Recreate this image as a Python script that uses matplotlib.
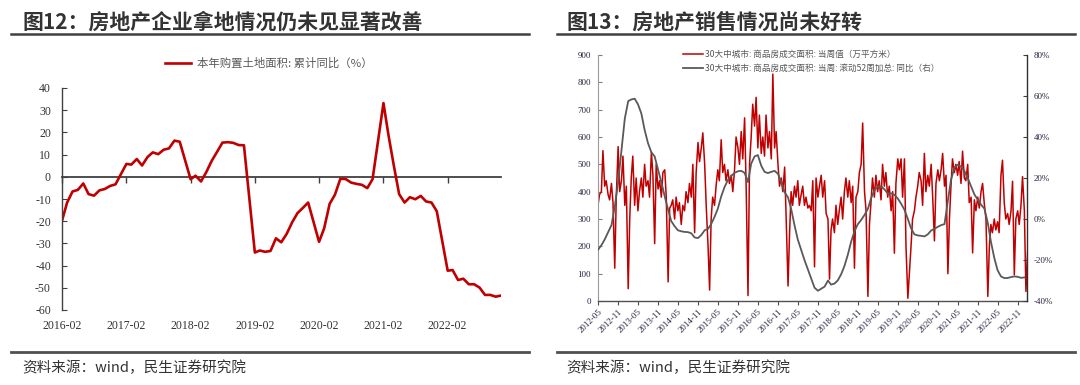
import numpy as np
import pandas as pd
import matplotlib
matplotlib.use('Agg')
import matplotlib.pyplot as plt
import matplotlib.dates as mdates
from matplotlib.lines import Line2D

plt.rcParams['font.family'] = ['Noto Sans CJK SC', 'DejaVu Sans']
SERIF = ['Liberation Serif', 'DejaVu Serif']

# ---------------- data: left chart (monthly, Jan omitted) ----------------
land_years = [2016, 2017, 2018, 2019, 2020, 2021, 2022]
land_2016 = [-19.8, -11.6, -6.6, -5.9, -3.0, -7.8, -8.5, -6.1, -5.5, -4.1, -3.4]
land_2017 = [5.8, 5.5, 8.0, 5.1, 8.9, 11.0, 10.2, 12.2, 12.8, 16.3, 15.8]
land_2018 = [-1.1, 0.5, -2.1, 2.1, 7.2, 11.2, 15.4, 15.6, 15.3, 14.3, 14.2]
land_2019 = [-34.1, -33.2, -33.8, -33.4, -27.7, -29.5, -25.7, -20.5, -16.4, -14.0, -11.6]
land_2020 = [-29.3, -23.2, -12.2, -8.1, -0.9, -1.0, -2.6, -3.2, -3.6, -5.1, -1.1]
land_2021 = [33.2, 19.0, 5.0, -7.8, -11.6, -9.2, -10.1, -8.6, -11.1, -11.6, -15.5]
land_2022 = [-42.3, -42.0, -46.5, -45.9, -48.4, -48.4, -49.9, -53.2, -53.2, -54.0, -53.5]
land_label = '本年购置土地面积: 累计同比（%）'

# ---------------- data: right chart ----------------
# weekly transaction area (semi-monthly readings), 万平方米, from 2012-05
area_2012_2014 = [350, 390, 400, 550, 420, 440, 390, 370, 430, 360,
                  120, 380, 565, 400, 440, 530, 350, 420, 45, 300,
                  450, 530, 350, 450, 330, 400, 450, 380, 500, 420,
                  440, 380, 545, 460, 210, 500, 410, 440, 380, 470,
                  480, 380, 70, 340, 350, 370, 300, 380, 330, 360,
                  280, 350, 330, 400, 360, 430, 380, 500, 250, 470,
                  580, 510, 560, 615, 500]
area_2015_2017 = [350, 200, 40, 300, 380, 350, 420, 480, 440, 590,
                  470, 500, 440, 480, 430, 460, 400, 480, 600, 560,
                  500, 620, 520, 670, 420, 20, 500, 600, 720, 640,
                  745, 560, 680, 540, 600, 530, 680, 560, 620, 520,
                  830, 560, 620, 500, 420, 450, 400, 490, 300, 55,
                  250, 400, 350, 420, 380, 440, 350, 390, 420, 350,
                  380, 340, 350, 330]
area_2017_2020 = [440, 125, 450, 380, 420, 460, 380, 440, 320, 300,
                  80, 260, 300, 250, 350, 280, 330, 380, 300, 400,
                  450, 380, 440, 360, 420, 120, 380, 400, 470, 500,
                  651, 400, 330, 17, 280, 360, 450, 380, 460, 400,
                  440, 370, 500, 420, 470, 380, 420, 330, 400, 175,
                  430, 520, 480, 520, 380, 520, 200, 10, 100, 200,
                  300, 330, 380, 420, 470]
area_2020_2023 = [440, 350, 540, 400, 460, 420, 500, 380, 220, 430,
                  480, 440, 480, 540, 420, 460, 100, 300, 420, 520,
                  470, 500, 460, 510, 430, 548, 450, 440, 500, 360,
                  380, 176, 370, 330, 380, 340, 400, 430, 350, 300,
                  17, 200, 280, 250, 300, 260, 290, 250, 460, 515,
                  360, 300, 320, 280, 330, 438, 96, 300, 330, 280,
                  350, 455, 330, 35, 190]
area_values = area_2012_2014 + area_2015_2017 + area_2017_2020 + area_2020_2023

# rolling 52-week sum YoY (%), monthly readings from 2012-05
yoy_values = [-15, -12.8, -10, -6.5, -3, 6, 18, 33, 49, 57.5,
              58.3, 58.7, 56, 51.5, 43.5, 37, 32.5, 30.5, 24, 18,
              11, 4.5, -1, -3.5, -5.5, -6, -6.3, -6.4, -7, -9,
              -9.3, -7.8, -5.5, -4.8, -2.5, 1, 5, 11, 15.5, 19,
              21, 22.5, 23.3, 23.5, 22.5, 18, 27, 30.5, 31.2, 26,
              23, 22.4, 23, 23.5, 22, 18, 13, 10.5, 5, -3,
              -10, -15, -20, -24.5, -29, -33.5, -35, -34, -33, -30,
              -32, -31.5, -30, -27, -23, -17.5, -11, -6, -2.5, -0.5,
              2, 5, 10, 14, 15.8, 16, 14.5, 12.5, 12.5, 11.8,
              10, 7.5, 4.5, 0, -4.5, -7.5, -8, -8.2, -8.5, -7.5,
              -5.6, -4.8, -3.8, -3, -2.5, 9, 19, 25, 26.5, 25.5,
              23.5, 20, 16, 12, 9.5, 7, 5, -2, -11, -19,
              -25, -28, -28.8, -28.8, -28.3, -28, -28.2, -28.7, -28.5]
area_label = '30大中城市: 商品房成交面积: 当周值（万平方米）'
yoy_label = '30大中城市: 商品房成交面积: 当周: 滚动52周加总: 同比（右）'

title_left = '图12：房地产企业拿地情况仍未见显著改善'
title_right = '图13：房地产销售情况尚未好转'
source_text = '资料来源：wind，民生证券研究院'

RED = '#C00000'
W, H = 1080, 385

fig = plt.figure(figsize=(W / 100, H / 100), dpi=100)
fig.patch.set_facecolor('white')

def fx(px):
    return px / W

def fy(py):
    return 1 - py / H

# ---------------- left chart ----------------
land_dates = [pd.Timestamp(y, m, 1) for y in land_years for m in range(2, 13)]
land_values = land_2016 + land_2017 + land_2018 + land_2019 + land_2020 + land_2021 + land_2022
x1 = mdates.date2num(land_dates)

ax1 = fig.add_axes([fx(62), fy(310), fx(501) - fx(62), fy(88) - fy(310)])
ax1.plot(x1, land_values, color=RED, lw=1.9, label=land_label, solid_joinstyle='round')
ax1.set_ylim(-60, 40)
ax1.set_xlim(x1[0], x1[-1])
ax1.set_yticks(np.arange(-60, 41, 10))
ax1.set_yticklabels([str(v) for v in range(-60, 41, 10)], fontfamily=SERIF)
ltick_dates = [pd.Timestamp(y, 2, 1) for y in land_years]
lxt = mdates.date2num(ltick_dates)
ax1.set_xticks(lxt)
ax1.set_xticklabels([d.strftime('%Y-%m') for d in ltick_dates], fontfamily=SERIF)
for s in ['top', 'right', 'bottom']:
    ax1.spines[s].set_visible(False)
ax1.spines['left'].set_color('#404040')
ax1.spines['left'].set_linewidth(1.0)
ax1.tick_params(axis='x', length=0, pad=7, labelsize=8.5, labelcolor='#333333')
ax1.tick_params(axis='y', direction='in', length=3.5, width=0.8, color='#404040',
                labelsize=8.5, labelcolor='#333333', pad=8)

zero_pos = (0 - (-60)) / (40 - (-60))
sec = ax1.secondary_xaxis(zero_pos)
sec.set_alignment('bottom')
sec.set_xticks(lxt)
sec.set_xticklabels([])
sec.tick_params(direction='out', length=4, width=1.0, color='#404040')
for s in sec.spines.values():
    s.set_color('#404040')
    s.set_linewidth(1.3)

ax1.legend(loc='center left', bbox_to_anchor=((165 - 62) / 439, (310 - 63) / 222),
           frameon=False, fontsize=8.2, handlelength=2.3, handletextpad=0.5,
           borderaxespad=0, borderpad=0, labelcolor='#595959')

# ---------------- right chart ----------------
area_dates = pd.date_range('2012-05-01', periods=len(area_values), freq='SMS')
yoy_dates = pd.date_range('2012-05-01', periods=len(yoy_values), freq='MS')
xr = mdates.date2num(area_dates)
xg = mdates.date2num(yoy_dates)

ax = fig.add_axes([fx(598), fy(301), fx(1027) - fx(598), fy(55) - fy(301)])
l1, = ax.plot(xr, area_values, color=RED, lw=1.1, label=area_label)
ax.set_ylim(0, 900)
ax.set_yticks(np.arange(0, 901, 100))
ax.set_yticklabels([str(v) for v in range(0, 901, 100)], fontfamily=SERIF)
ax.set_xlim(mdates.date2num(pd.Timestamp('2012-05-01')), mdates.date2num(pd.Timestamp('2023-01-25')))
rtick_dates = pd.date_range('2012-05-01', '2022-11-01', freq='6MS')
ax.set_xticks(mdates.date2num(rtick_dates))
ax.set_xticklabels([d.strftime('%Y-%m') for d in rtick_dates], fontfamily=SERIF,
                   rotation=45, ha='right', va='top', rotation_mode='anchor')
ax.tick_params(axis='x', direction='out', length=3, width=0.8, color='#505050',
               labelsize=6.5, labelcolor='#262640', pad=2)
ax.tick_params(axis='y', direction='in', length=3, width=0.8, color='#808080',
               labelsize=6.5, labelcolor='#262640', pad=5)
ax.spines['top'].set_visible(False)
ax.spines['right'].set_visible(False)
ax.spines['left'].set_color('#9a9a9a')
ax.spines['bottom'].set_color('#505050')
ax.spines['bottom'].set_linewidth(1.0)

ax2 = ax.twinx()
l2, = ax2.plot(xg, yoy_values, color='#595959', lw=1.3, label=yoy_label)
ax2.set_ylim(-40, 80)
ax2.set_yticks(np.arange(-40, 81, 20))
ax2.set_yticklabels([f'{v}%' for v in range(-40, 81, 20)], fontfamily=SERIF)
ax2.tick_params(axis='y', direction='in', length=3, width=0.8, color='#404040',
                labelsize=6.5, labelcolor='#262640', pad=5)
for s in ['top', 'left', 'bottom']:
    ax2.spines[s].set_visible(False)
ax2.spines['right'].set_color('#303030')
ax2.spines['right'].set_linewidth(1.0)

ax2.legend(handles=[l1, l2], loc='upper left',
           bbox_to_anchor=((683 - 598) / 429, (301 - 50) / 246),
           frameon=False, fontsize=6.2, handlelength=2.3, handletextpad=0.3,
           labelspacing=0.6, borderaxespad=0, borderpad=0, labelcolor='#555555')

# ---------------- titles, rules, sources ----------------
fig.text(fx(22), fy(22), title_left, fontsize=15, fontweight='bold', color='#333333', va='center')
fig.text(fx(566), fy(22), title_right, fontsize=15, fontweight='bold', color='#333333', va='center')
for x0, x1_ in [(11, 529), (557, 1075)]:
    fig.add_artist(Line2D([fx(x0), fx(x1_)], [fy(33.5), fy(33.5)], transform=fig.transFigure,
                          color='#404040', lw=1.8))
    fig.add_artist(Line2D([fx(x0), fx(x1_)], [fy(352), fy(352)], transform=fig.transFigure,
                          color='#505050', lw=2.0))
fig.text(fx(22), fy(368), source_text, fontsize=10.5, color='#333333', va='center')
fig.text(fx(566), fy(368), source_text, fontsize=10.5, color='#333333', va='center')

fig.savefig('out.png', dpi=100, facecolor='white')
